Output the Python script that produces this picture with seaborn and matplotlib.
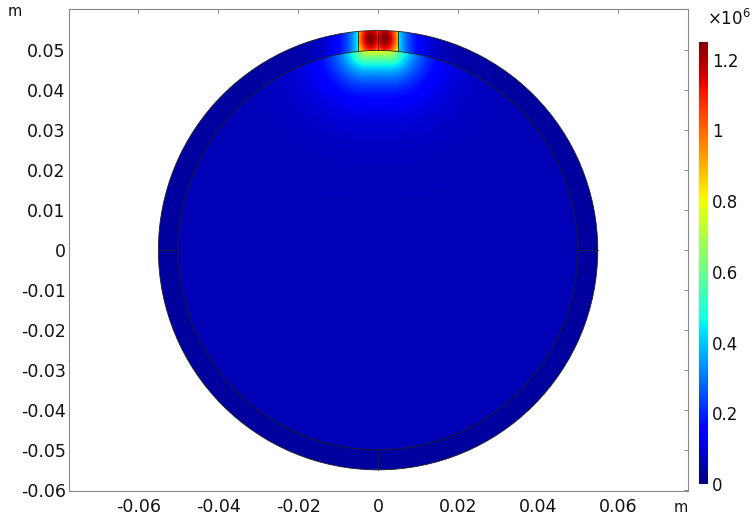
import numpy as np
import matplotlib
matplotlib.use("Agg")
import matplotlib.pyplot as plt
from matplotlib.patches import Circle
import seaborn as sns

# Geometry of the cross-section (m)
outer_radius = 0.055
inner_radius = 0.050
electrode_half_width = 0.005
ring_dividers_y0 = [-1, 1]          # left / right cuts of the outer layer at y = 0
ring_divider_bottom = [0.0]         # bottom cut of the outer layer at x = 0
electrode_splits = [-0.005, 0.0, 0.005]

# Field levels (same unit as colour bar)
interior_base = 0.062e6
interior_peak = 0.74e6
interior_decay = 0.006
interior_source_half = 0.003
ring_base = 0.038e6
ring_peak = 0.42e6
ring_decay = 0.004
electrode_base = 0.45e6
electrode_peak = 0.80e6
electrode_lobe_x = 0.0018
electrode_sigma_x = 0.003
electrode_center_y = 0.053
electrode_sigma_y = 0.0042

# Colour scale
vmin, vmax = 0.0, 1.25e6
cbar_ticks = [0.0, 0.2e6, 0.4e6, 0.6e6, 0.8e6, 1.0e6, 1.2e6]
cbar_labels = ["0", "0.2", "0.4", "0.6", "0.8", "1", "1.2"]

# Axes ticks
x_ticks = [-0.06, -0.04, -0.02, 0.0, 0.02, 0.04, 0.06]
x_labels = ["-0.06", "-0.04", "-0.02", "0", "0.02", "0.04", "0.06"]
y_ticks = [-0.06, -0.05, -0.04, -0.03, -0.02, -0.01, 0.0, 0.01, 0.02, 0.03, 0.04, 0.05]
y_labels = ["-0.06", "-0.05", "-0.04", "-0.03", "-0.02", "-0.01", "0",
            "0.01", "0.02", "0.03", "0.04", "0.05"]
x_limits = (-0.0775, 0.0776)
y_limits = (-0.06025, 0.0604)

sns.set_theme(style="white")
plt.rcParams["font.family"] = ["DejaVu Sans"]

# Evaluate the surface field on a fine grid
n = 1400
g = np.linspace(-outer_radius * 1.01, outer_radius * 1.01, n)
X, Y = np.meshgrid(g, g)
R = np.hypot(X, Y)
ax_abs = np.abs(X)

interior = R < inner_radius
ring = (R >= inner_radius) & (R <= outer_radius * 1.005)
electrode = ring & (ax_abs <= electrode_half_width) & (Y > 0)
ring_rest = ring & ~electrode

F = np.full(X.shape, np.nan)

dx = np.clip(ax_abs - interior_source_half, 0, None)
d_int = np.hypot(dx, Y - inner_radius)
F[interior] = (interior_base + interior_peak * np.exp(-d_int / interior_decay))[interior]

d_ring = np.clip(ax_abs - electrode_half_width, 0, None) + np.clip(-Y, 0, None)
F[ring_rest] = (ring_base + ring_peak * np.exp(-d_ring / ring_decay))[ring_rest]

lobe = (np.exp(-(ax_abs - electrode_lobe_x) ** 2 / (2 * electrode_sigma_x ** 2))
        * np.exp(-(Y - electrode_center_y) ** 2 / (2 * electrode_sigma_y ** 2)))
F[electrode] = (electrode_base + electrode_peak * lobe)[electrode]

cmap = matplotlib.colormaps["jet"]

fig = plt.figure(figsize=(7.52, 5.2), dpi=100)
ax = fig.add_axes([0.0911, 0.0553, 0.8238, 0.9284])

im = ax.imshow(F, extent=(g[0], g[-1], g[0], g[-1]), origin="lower",
               cmap=cmap, vmin=vmin, vmax=vmax, interpolation="bilinear")
clip = Circle((0, 0), outer_radius, transform=ax.transData)
im.set_clip_path(clip)

line_kw = dict(color="#202020", lw=0.6)
ax.add_patch(Circle((0, 0), outer_radius, fill=False, **line_kw))
ax.add_patch(Circle((0, 0), inner_radius, fill=False, **line_kw))
for s in ring_dividers_y0:
    ax.plot([s * inner_radius, s * outer_radius], [0, 0], **line_kw)
for xb in ring_divider_bottom:
    ax.plot([xb, xb], [-np.sqrt(outer_radius ** 2 - xb ** 2),
                       -np.sqrt(inner_radius ** 2 - xb ** 2)], **line_kw)
for xe in electrode_splits:
    ax.plot([xe, xe], [np.sqrt(inner_radius ** 2 - xe ** 2),
                       np.sqrt(outer_radius ** 2 - xe ** 2)], **line_kw)

ax.set_xlim(*x_limits)
ax.set_ylim(*y_limits)
ax.set_aspect("equal")
ax.set_xticks(x_ticks)
ax.set_xticklabels(x_labels)
ax.set_yticks(y_ticks)
ax.set_yticklabels(y_labels)
ax.tick_params(axis="both", direction="in", length=3, width=0.7, color="#888888",
               labelsize=12.5, labelcolor="#111111", top=True, right=True)
ax.tick_params(axis="x", pad=5)
ax.tick_params(axis="y", pad=2)
for sp in ax.spines.values():
    sp.set_color("#888888")
    sp.set_linewidth(0.8)
    sp.set_visible(True)
ax.grid(False)

fig.text(15 / 752, 1 - 12 / 520, "m", fontsize=10.5, color="#111111",
         ha="center", va="center")
fig.text(681 / 752, 1 - 507 / 520, "m", fontsize=10.5, color="#111111",
         ha="center", va="center")

cax = fig.add_axes([699 / 752, 36 / 520, 9 / 752, 442 / 520])
cb = fig.colorbar(im, cax=cax)
cb.set_ticks(cbar_ticks)
cb.set_ticklabels(cbar_labels)
cb.outline.set_visible(False)
cax.tick_params(length=0, labelsize=12, pad=3, labelcolor="#111111")
fig.text(707 / 752, 1 - 19 / 520, r"×10$^{6}$", fontsize=12, color="#111111",
         ha="left", va="center")

fig.savefig("out.png", dpi=100)
